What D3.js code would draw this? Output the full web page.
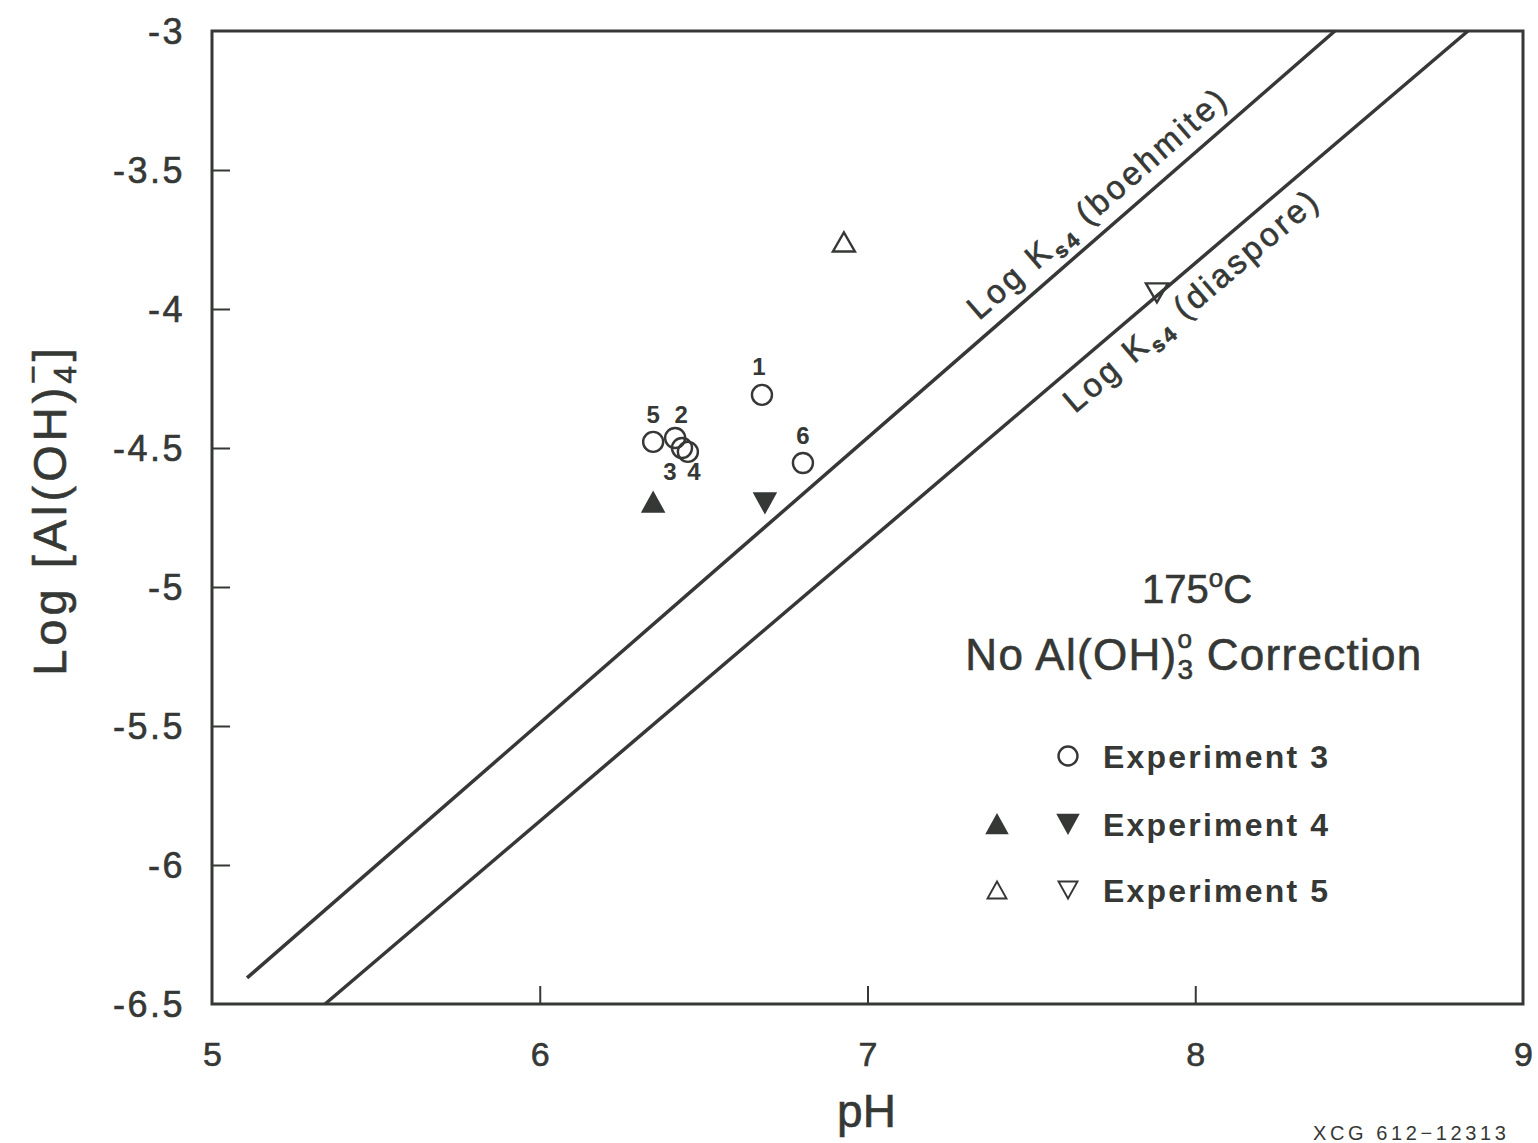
<!DOCTYPE html>
<html>
<head>
<meta charset="utf-8">
<script src="https://cdn.jsdelivr.net/npm/d3@7"></script>
<style>
  html, body { margin: 0; padding: 0; background: #ffffff; }
  svg { display: block; font-family: "Liberation Sans", Arial, Helvetica, sans-serif; }
  .heavy { stroke: #353835; stroke-width: 0.6px; paint-order: stroke; }
</style>
</head>
<body>
<svg id="chart" width="1538" height="1143"></svg>
<script>
// ---- data -------------------------------------------------------------
const xTicks = [5, 6, 7, 8, 9];
const xTickLabels = ["5", "6", "7", "8", "9"];
const yTicks = [-3, -3.5, -4, -4.5, -5, -5.5, -6, -6.5];
const yTickLabels = ["-3", "-3.5", "-4", "-4.5", "-5", "-5.5", "-6", "-6.5"];

// Experiment 3 (open circles, numbered samples)
const exp3Labels = ["1", "2", "3", "4", "5", "6"];
const exp3PH     = [6.678, 6.413, 6.434, 6.452, 6.346, 6.803];
const exp3LogAl  = [-4.309, -4.464, -4.500, -4.514, -4.478, -4.554];

// Experiment 4 (filled triangles: up / down)
const exp4PH    = [6.346, 6.687];
const exp4LogAl = [-4.694, -4.698];
const exp4Dir   = ["up", "down"];

// Experiment 5 (open triangles: up / down)
const exp5PH    = [6.928, 7.883];
const exp5LogAl = [-3.759, -3.942];
const exp5Dir   = ["up", "down"];

// Solubility lines, log[Al(OH)4-] vs pH
const boehmitePH    = [5.107, 8.426];
const boehmiteLogAl = [-6.406, -3.0];
const diasporePH    = [5.345, 8.832];
const diasporeLogAl = [-6.5, -3.0];

const legendLabels = ["Experiment 3", "Experiment 4", "Experiment 5"];

// ---- layout -----------------------------------------------------------
const ink = "#353835";
const svg = d3.select("#chart");
const plotLeft = 212, plotRight = 1523, plotTop = 31, plotBottom = 1004;

const x = d3.scaleLinear().domain([5, 9]).range([plotLeft, plotRight]);
const y = d3.scaleLinear().domain([-6.5, -3]).range([plotBottom, plotTop]);

// frame
svg.append("rect")
  .attr("x", plotLeft).attr("y", plotTop)
  .attr("width", plotRight - plotLeft).attr("height", plotBottom - plotTop)
  .attr("fill", "none").attr("stroke", ink).attr("stroke-width", 3);

// bottom axis: inward ticks
const xAxis = svg.append("g")
  .attr("transform", `translate(0,${plotBottom})`)
  .call(d3.axisBottom(x).tickValues(xTicks)
    .tickFormat((d, i) => xTickLabels[i]).tickSize(-18).tickPadding(0));
xAxis.select(".domain").remove();
xAxis.selectAll(".tick line").attr("stroke", ink).attr("stroke-width", 2)
  .filter(d => d === 5 || d === 9).remove();
xAxis.selectAll(".tick text")
  .attr("y", 62).attr("dy", null).attr("class", "heavy")
  .attr("fill", ink).attr("font-size", 34).attr("font-family", null);

// left axis: inward ticks
const yAxis = svg.append("g")
  .attr("transform", `translate(${plotLeft},0)`)
  .call(d3.axisLeft(y).tickValues(yTicks)
    .tickFormat((d, i) => yTickLabels[i]).tickSize(-18).tickPadding(0));
yAxis.select(".domain").remove();
yAxis.selectAll(".tick line").attr("stroke", ink).attr("stroke-width", 2)
  .filter(d => d === -3 || d === -6.5).remove();
yAxis.selectAll(".tick text")
  .attr("x", -27).attr("dy", "0.36em").attr("class", "heavy")
  .attr("fill", ink).attr("font-size", 36).attr("letter-spacing", 2.5).attr("font-family", null);

// axis titles
svg.append("text")
  .attr("x", (plotLeft + plotRight) / 2 - 1).attr("y", 1127)
  .attr("text-anchor", "middle").attr("font-size", 46).attr("fill", ink)
  .attr("class", "heavy").text("pH");

const yTitle = svg.append("text")
  .attr("transform", "translate(66,510) rotate(-90)")
  .attr("text-anchor", "middle").attr("font-size", 47).attr("fill", ink)
  .attr("class", "heavy").attr("letter-spacing", 4);
yTitle.append("tspan").text("Log [Al(OH)");
yTitle.append("tspan").attr("font-size", 32).attr("dy", 10).text("4");
yTitle.append("tspan").attr("font-size", 32).attr("dx", -22).attr("dy", -32).text("\u2212");
yTitle.append("tspan").attr("dy", 22).text("]");

// ---- solubility lines ---------------------------------------------------
const lineGen = d3.line().x(d => x(d[0])).y(d => y(d[1]));
const boehmite = d3.zip(boehmitePH, boehmiteLogAl);
const diaspore = d3.zip(diasporePH, diasporeLogAl);

[boehmite, diaspore].forEach(pts => {
  svg.append("path")
    .attr("d", lineGen(pts))
    .attr("fill", "none").attr("stroke", ink).attr("stroke-width", 3.5);
});

function lineLabel(pts, atPH, offset, name) {
  const [p0, p1] = pts;
  const ang = Math.atan2(y(p1[1]) - y(p0[1]), x(p1[0]) - x(p0[0])) * 180 / Math.PI;
  const t = (atPH - p0[0]) / (p1[0] - p0[0]);
  const v = p0[1] + t * (p1[1] - p0[1]);
  const txt = svg.append("text")
    .attr("transform", `translate(${x(atPH)},${y(v)}) rotate(${ang})`)
    .attr("y", offset).attr("class", "heavy")
    .attr("font-size", 33).attr("fill", ink).attr("letter-spacing", 3.2);
  txt.append("tspan").text("Log K");
  txt.append("tspan").attr("font-size", 21).attr("font-weight", "bold").attr("dy", 8).text("s4");
  txt.append("tspan").attr("dy", -8).text(" (" + name + ")");
}
lineLabel(boehmite, 7.37, -15, "boehmite");
lineLabel(diaspore, 7.56, 37, "diaspore");

// ---- markers ------------------------------------------------------------
function triPath(cx, cy, dir, w, h) {
  const hw = w / 2, hh = h / 2;
  return dir === "up"
    ? `M${cx - hw},${cy + hh}L${cx + hw},${cy + hh}L${cx},${cy - hh}Z`
    : `M${cx - hw},${cy - hh}L${cx + hw},${cy - hh}L${cx},${cy + hh}Z`;
}

// Experiment 3 circles
const exp3 = exp3Labels.map((l, i) => ({ label: l, ph: exp3PH[i], v: exp3LogAl[i] }));
svg.append("g").selectAll("circle").data(exp3).join("circle")
  .attr("cx", d => x(d.ph)).attr("cy", d => y(d.v)).attr("r", 10)
  .attr("fill", "none").attr("stroke", ink).attr("stroke-width", 2.4);

// sample numbers next to the circles
const numOffset = { "1": [-3, -20], "2": [6, -15], "3": [-12, 32], "4": [6, 28], "5": [0, -19], "6": [0, -19] };
svg.append("g").selectAll("text").data(exp3).join("text")
  .attr("x", d => x(d.ph) + numOffset[d.label][0])
  .attr("y", d => y(d.v) + numOffset[d.label][1])
  .attr("text-anchor", "middle").attr("font-size", 24).attr("font-weight", "bold")
  .attr("fill", ink).text(d => d.label);

// Experiment 4 filled triangles
const exp4 = exp4PH.map((p, i) => ({ ph: p, v: exp4LogAl[i], dir: exp4Dir[i] }));
svg.append("g").selectAll("path").data(exp4).join("path")
  .attr("d", d => triPath(x(d.ph), y(d.v), d.dir, 22, 20))
  .attr("fill", ink).attr("stroke", ink).attr("stroke-width", 1.5);

// Experiment 5 open triangles
const exp5 = exp5PH.map((p, i) => ({ ph: p, v: exp5LogAl[i], dir: exp5Dir[i] }));
svg.append("g").selectAll("path").data(exp5).join("path")
  .attr("d", d => triPath(x(d.ph), y(d.v), d.dir, 22, 19))
  .attr("fill", "none").attr("stroke", ink).attr("stroke-width", 2.4)
  .attr("stroke-linejoin", "miter");

// ---- annotation and legend -----------------------------------------------
const t1 = svg.append("text").attr("x", 1197).attr("y", 603)
  .attr("text-anchor", "middle").attr("font-size", 40).attr("fill", ink).attr("class", "heavy");
t1.append("tspan").text("175");
t1.append("tspan").attr("font-size", 26).attr("dy", -16).text("o");
t1.append("tspan").attr("dy", 16).text("C");

const t2 = svg.append("text").attr("x", 1194).attr("y", 670)
  .attr("text-anchor", "middle").attr("font-size", 44).attr("fill", ink)
  .attr("class", "heavy").attr("letter-spacing", 1.3);
t2.append("tspan").text("No Al(OH)");
t2.append("tspan").attr("font-size", 28).attr("dy", 9).text("3");
t2.append("tspan").attr("font-size", 26).attr("dx", -17).attr("dy", -31).text("o");
t2.append("tspan").attr("dy", 22).text(" Correction");

const legY = [756, 824, 890];
legendLabels.forEach((lab, i) => {
  svg.append("text").attr("x", 1103).attr("y", legY[i] + 12)
    .attr("font-size", 32).attr("font-weight", "bold").attr("fill", ink)
    .attr("letter-spacing", 2.2).text(lab);
});
svg.append("circle").attr("cx", 1068).attr("cy", legY[0]).attr("r", 9.5)
  .attr("fill", "none").attr("stroke", ink).attr("stroke-width", 2.4);
svg.append("path").attr("d", triPath(997, legY[1], "up", 21, 19))
  .attr("fill", ink).attr("stroke", ink).attr("stroke-width", 1.5);
svg.append("path").attr("d", triPath(1068, legY[1], "down", 21, 19))
  .attr("fill", ink).attr("stroke", ink).attr("stroke-width", 1.5);
svg.append("path").attr("d", triPath(997, legY[2], "up", 19, 17))
  .attr("fill", "none").attr("stroke", ink).attr("stroke-width", 1.9);
svg.append("path").attr("d", triPath(1068, legY[2], "down", 19, 17))
  .attr("fill", "none").attr("stroke", ink).attr("stroke-width", 1.9);

// drawing number
svg.append("text").attr("x", 1313).attr("y", 1140)
  .attr("font-size", 20).attr("fill", ink).attr("letter-spacing", 3.6)
  .text("XCG 612\u221212313");
</script>
</body>
</html>
